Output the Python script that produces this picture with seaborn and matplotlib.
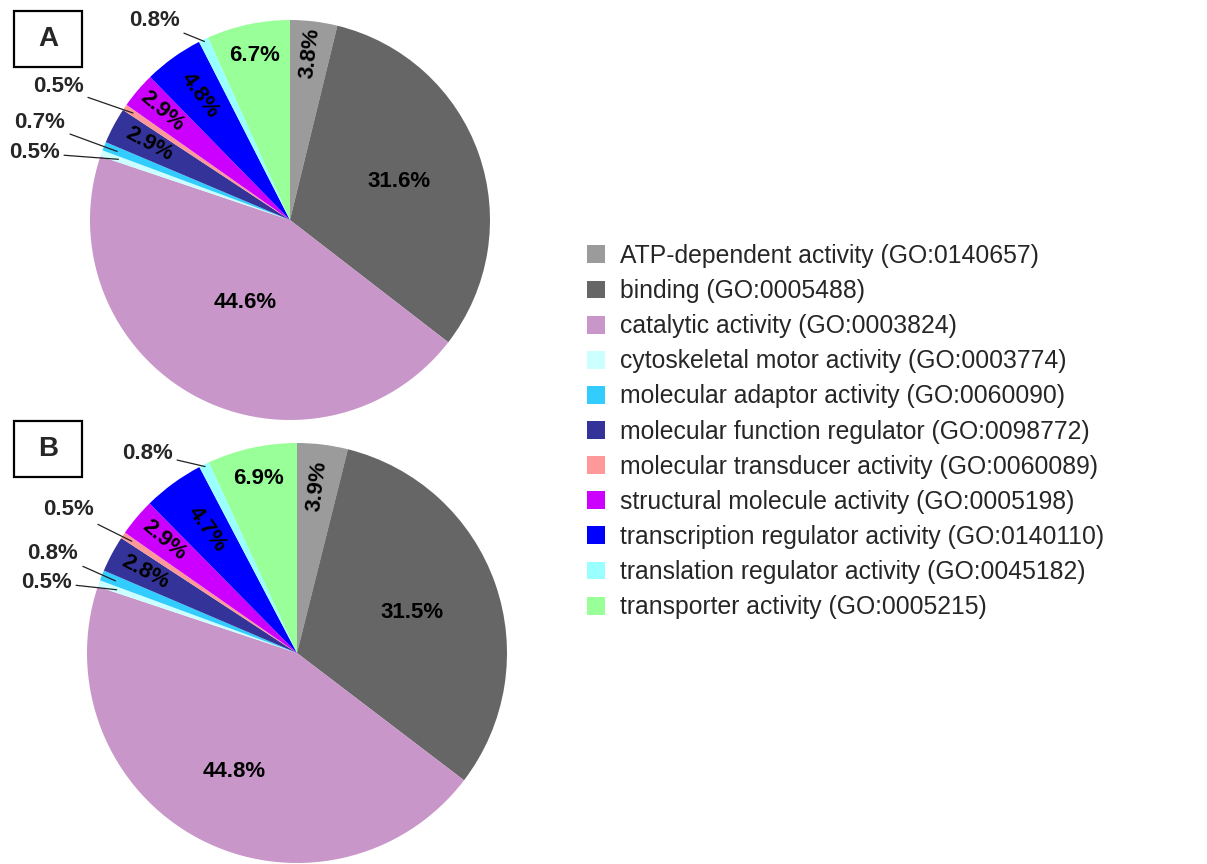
import numpy as np
import matplotlib
matplotlib.use("Agg")
import matplotlib.pyplot as plt
from matplotlib.patches import Patch, Rectangle
import seaborn as sns

# ---------------- data ----------------
categories = [
    "ATP-dependent activity (GO:0140657)",
    "binding (GO:0005488)",
    "catalytic activity (GO:0003824)",
    "cytoskeletal motor activity (GO:0003774)",
    "molecular adaptor activity (GO:0060090)",
    "molecular function regulator (GO:0098772)",
    "molecular transducer activity (GO:0060089)",
    "structural molecule activity (GO:0005198)",
    "transcription regulator activity (GO:0140110)",
    "translation regulator activity (GO:0045182)",
    "transporter activity (GO:0005215)",
]
values_a = [3.8, 31.6, 44.6, 0.5, 0.7, 2.9, 0.5, 2.9, 4.8, 0.8, 6.7]
values_b = [3.9, 31.5, 44.8, 0.5, 0.8, 2.8, 0.5, 2.9, 4.7, 0.8, 6.9]
panel_labels = ["A", "B"]

colors = ["#9b9b9b", "#666666", "#c896c8", "#ccffff", "#33ccff", "#333399",
          "#ff9999", "#cc00ff", "#0000ff", "#99ffff", "#99ff99"]

# ---------------- style ----------------
sns.set_theme(style="white")
plt.rcParams['font.family'] = ['Liberation Sans', 'DejaVu Sans']

W, H = 1207, 864
fig = plt.figure(figsize=(W / 100, H / 100), dpi=100)
ax = fig.add_axes([0, 0, 1, 1])
palette = sns.color_palette(colors)

# label placement (layout only): radial factor for inside labels,
# offset (in radius units) for outside labels
inside_a = {0: 0.84, 1: 0.58, 2: 0.47, 5: 0.80, 7: 0.84, 8: 0.77, 10: 0.84}
inside_b = {0: 0.80, 1: 0.58, 2: 0.64, 5: 0.82, 7: 0.83, 8: 0.73, 10: 0.85}
outside_a = {3: (-1.28, 0.335), 4: (-1.25, 0.485), 6: (-1.16, 0.665), 9: (-0.68, 0.995)}
outside_b = {3: (-1.195, 0.338), 4: (-1.162, 0.476), 6: (-1.086, 0.681), 9: (-0.714, 0.952)}
line_r = {3: 0.91, 4: 0.93, 6: 0.95, 9: 0.99}
LABEL_FS = 16


def draw_pie(values, cx, cy_px, R, inside, outside, box_top, letter):
    cy = H - cy_px
    vals = np.asarray(values, dtype=float)
    ax.pie(vals, colors=palette, startangle=90, counterclock=False,
           center=(cx, cy), radius=R,
           wedgeprops=dict(linewidth=0))
    fr = vals / vals.sum()
    cum = np.cumsum(fr)
    t1 = 90 - 360 * (cum - fr)
    t2 = 90 - 360 * cum
    mid = np.deg2rad((t1 + t2) / 2)
    for i, v in enumerate(vals):
        txt = f"{v:.1f}%"
        if i in inside:
            r = inside[i] * R
            x = cx + r * np.cos(mid[i])
            y = cy + r * np.sin(mid[i])
            rot = 0
            if v < 5:
                rot = np.rad2deg(mid[i])
                rot = (rot + 180) % 360 - 180
                if rot > 90:
                    rot -= 180
                elif rot < -90:
                    rot += 180
            ax.text(x, y, txt, ha="center", va="center", rotation=rot,
                    rotation_mode="anchor", fontsize=LABEL_FS,
                    fontweight="bold", color="black")
        elif i in outside:
            ox, oy = outside[i]
            tx, ty = cx + ox * R, cy + oy * R
            ex = cx + line_r[i] * R * np.cos(mid[i])
            ey = cy + line_r[i] * R * np.sin(mid[i])
            ax.annotate(txt, xy=(ex, ey), xytext=(tx, ty), ha="center",
                        va="center", fontsize=LABEL_FS, fontweight="bold",
                        arrowprops=dict(arrowstyle="-", color="#222222",
                                        lw=0.9, shrinkA=1, shrinkB=0))
    ax.add_patch(Rectangle((14, H - box_top - 56), 68, 56, fill=False,
                           lw=1.6, ec="black"))
    ax.text(48, H - box_top - 28, letter, ha="center", va="center",
            fontsize=20, fontweight="bold")


draw_pie(values_a, 290, 220, 200, inside_a, outside_a, 11, panel_labels[0])
draw_pie(values_b, 297, 653, 210, inside_b, outside_b, 421, panel_labels[1])

ax.set_xlim(0, W)
ax.set_ylim(0, H)
ax.set_aspect("auto")
ax.axis("off")

handles = [Patch(facecolor=c, edgecolor="none") for c in palette]
fig.legend(handles, categories, loc="upper left",
           bbox_to_anchor=(587 / W, 1 - 244 / H), frameon=False,
           fontsize=17.8, handlelength=0.73, handleheight=0.73,
           handletextpad=0.6, labelspacing=0.45, borderpad=0,
           borderaxespad=0)

fig.savefig("out.png", dpi=100)
